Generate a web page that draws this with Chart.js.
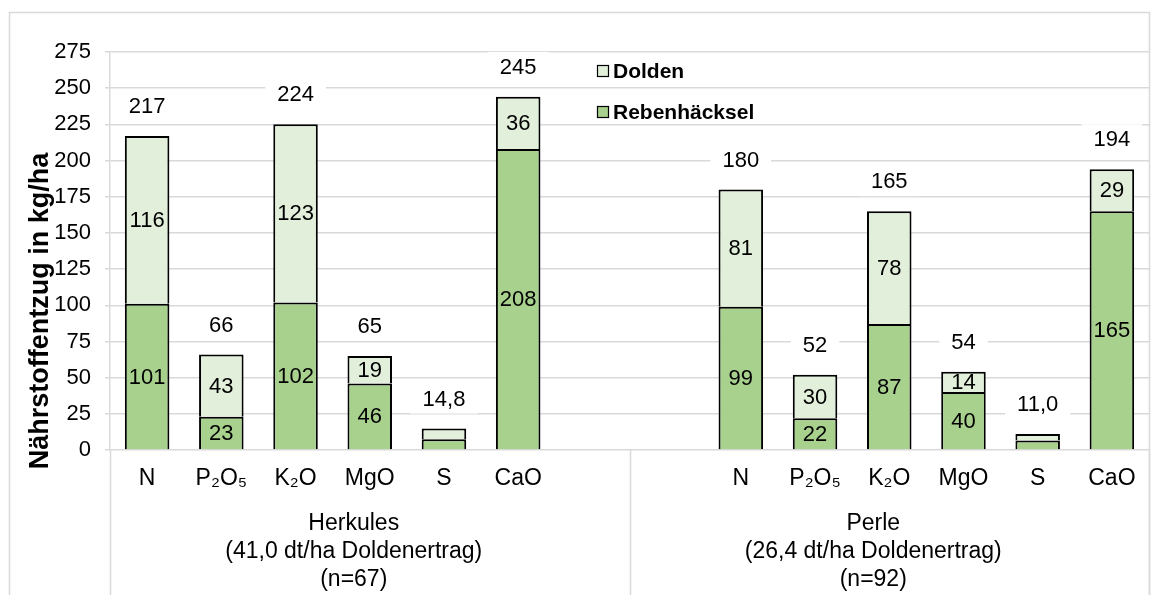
<!DOCTYPE html>
<html>
<head>
<meta charset="utf-8">
<script src="https://cdn.jsdelivr.net/npm/chart.js@4.4.0/dist/chart.umd.min.js"></script>
<style>
  html, body { margin: 0; padding: 0; background: #fff; }
</style>
</head>
<body>
<canvas id="chart" width="1163" height="595"></canvas>
<script>
// --- data ---
const elements = ['N', 'P₂O₅', 'K₂O', 'MgO', 'S', 'CaO'];
const groupNames = ['Herkules', 'Perle'];
const groupYield = ['(41,0 dt/ha Doldenertrag)', '(26,4 dt/ha Doldenertrag)'];
const groupN = ['(n=67)', '(n=92)'];
const yTitle = 'Nährstoffentzug in kg/ha';

const rebenHerkules = [101, 23, 102, 46, 7.5, 208];
const doldenHerkules = [116, 43, 123, 19, 7.3, 36];
const totalHerkules = [217, 66, 224, 65, 14.8, 245];

const rebenPerle = [99, 22, 87, 40, 6.5, 165];
const doldenPerle = [81, 30, 78, 14, 4.5, 29];
const totalPerle = [180, 52, 165, 54, 11.0, 194];

const yMin = 0, yMax = 275, yStep = 25;

// two empty slots between the varieties
const gap = [null, null];
const labels = [...elements, '', '', ...elements];
const reben = [...rebenHerkules, ...gap, ...rebenPerle];
const dolden = [...doldenHerkules, ...gap, ...doldenPerle];
const totals = [...totalHerkules, ...gap, ...totalPerle];

const FONT = "'Liberation Sans', Arial, sans-serif";
const GRID = '#d9d9d9';
const TEXT = '#000';

const fmtTotal = v => v < 20 ? v.toFixed(1).replace('.', ',') : String(Math.round(v));

const decor = {
    id: 'decor',
    beforeDraw(chart) {
        const ctx = chart.ctx;
        ctx.save();
        ctx.fillStyle = '#fff';
        ctx.fillRect(0, 0, chart.width, chart.height);
        ctx.strokeStyle = GRID;
        ctx.lineWidth = 1.5;
        ctx.strokeRect(9.5, 12.5, 1140, 620);
        ctx.restore();
    },
    afterDatasetsDraw(chart) {
        const ctx = chart.ctx;
        ctx.save();
        ctx.font = `22px ${FONT}`;
        ctx.fillStyle = TEXT;
        ctx.textAlign = 'center';
        ctx.textBaseline = 'middle';

        // values inside the segments
        chart.data.datasets.forEach((ds, di) => {
            const meta = chart.getDatasetMeta(di);
            meta.data.forEach((el, i) => {
                const v = ds.data[i];
                if (v == null || v < 10) return;
                ctx.fillText(String(v), el.x, (el.y + el.base) / 2 + 1);
            });
        });

        // totals above the bars, on a white box
        const top = chart.getDatasetMeta(1);
        totals.forEach((t, i) => {
            if (t == null) return;
            const el = top.data[i];
            const txt = fmtTotal(t);
            const y = el.y - 30;
            const w = ctx.measureText(txt).width + 24;
            ctx.fillStyle = '#fff';
            ctx.fillRect(el.x - w / 2, y - 15, w, 30);
            ctx.fillStyle = TEXT;
            ctx.fillText(txt, el.x, y + 1);
        });
        ctx.restore();
    },
    afterDraw(chart) {
        const ctx = chart.ctx;
        const x = chart.scales.x;
        const area = chart.chartArea;
        const divider = (x.getPixelForValue(6) + x.getPixelForValue(7)) / 2;
        const bounds = [x.left, divider, x.right];

        ctx.save();
        ctx.strokeStyle = GRID;
        ctx.lineWidth = 1.5;
        bounds.forEach(px => {
            ctx.beginPath();
            ctx.moveTo(Math.round(px) + 0.5, area.bottom);
            ctx.lineTo(Math.round(px) + 0.5, chart.height);
            ctx.stroke();
        });

        // group captions
        ctx.font = `23px ${FONT}`;
        ctx.fillStyle = TEXT;
        ctx.textAlign = 'center';
        ctx.textBaseline = 'middle';
        groupNames.forEach((g, gi) => {
            const cx = (bounds[gi] + bounds[gi + 1]) / 2 - 16;
            ctx.fillText(g, cx, 524);
            ctx.fillText(groupYield[gi], cx, 552);
            ctx.fillText(groupN[gi], cx, 580);
        });

        // y axis title (sits lower than the plot centre in the original)
        ctx.save();
        ctx.font = `bold 27px ${FONT}`;
        ctx.textBaseline = 'alphabetic';
        ctx.translate(48, 311);
        ctx.rotate(-Math.PI / 2);
        ctx.fillText(yTitle, 0, 0);
        ctx.restore();

        // legend
        ctx.font = `bold 21px ${FONT}`;
        ctx.textAlign = 'left';
        ctx.textBaseline = 'middle';
        const entries = [chart.data.datasets[1], chart.data.datasets[0]];
        entries.forEach((ds, k) => {
            const cy = 71 + k * 41;
            ctx.fillStyle = ds.backgroundColor;
            ctx.fillRect(597, cy - 6, 12, 12);
            ctx.strokeStyle = '#000';
            ctx.lineWidth = 1.2;
            ctx.strokeRect(597.5, cy - 5.5, 11, 11);
            ctx.fillStyle = TEXT;
            ctx.fillText(ds.label, 613, cy + 1);
        });
        ctx.restore();
    }
};

new Chart(document.getElementById('chart'), {
    type: 'bar',
    data: {
        labels: labels,
        datasets: [
            {
                label: 'Rebenhäcksel',
                data: reben,
                backgroundColor: '#a9d18e',
                borderColor: '#000',
                borderWidth: 2,
                barPercentage: 0.6,
                categoryPercentage: 1
            },
            {
                label: 'Dolden',
                data: dolden,
                backgroundColor: '#e2efda',
                borderColor: '#000',
                borderWidth: 2,
                borderSkipped: 'bottom',
                barPercentage: 0.6,
                categoryPercentage: 1
            }
        ]
    },
    options: {
        responsive: false,
        animation: false,
        devicePixelRatio: 1,
        layout: { padding: { left: 0, top: 52, right: 14, bottom: 0 } },
        plugins: { legend: { display: false }, tooltip: { enabled: false } },
        scales: {
            x: {
                stacked: true,
                offset: true,
                grid: { display: false, drawTicks: false },
                border: { display: false },
                ticks: {
                    color: TEXT,
                    font: { family: FONT, size: 23 },
                    maxRotation: 0,
                    autoSkip: false,
                    padding: 15
                },
                afterFit(s) { s.height = 145; }
            },
            y: {
                stacked: true,
                min: yMin,
                max: yMax,
                ticks: {
                    stepSize: yStep,
                    color: TEXT,
                    font: { family: FONT, size: 22 },
                    padding: 14
                },
                grid: { color: GRID, lineWidth: 1.5, tickLength: 5 },
                border: { color: GRID, width: 1.5 },
                afterFit(s) { s.width = 110; }
            }
        }
    },
    plugins: [decor]
});
</script>
</body>
</html>
